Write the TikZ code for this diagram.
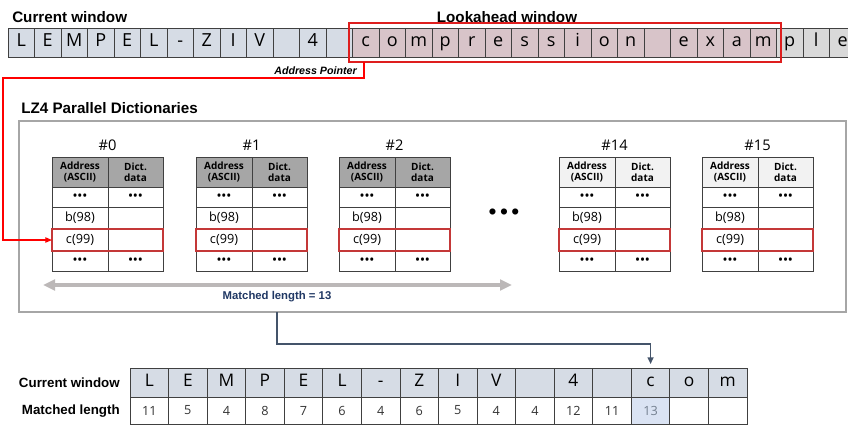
\documentclass[tikz,border=0pt]{standalone}
\usepackage{fontspec}
\setmainfont{Liberation Sans}
\newfontfamily\cf{Open Sans}
\usetikzlibrary{arrows.meta,calc}
\definecolor{cwfill}{RGB}{214,220,229}
\definecolor{lafill}{RGB}{216,196,201}
\definecolor{plfill}{RGB}{217,217,217}
\definecolor{cellline}{RGB}{64,64,64}
\definecolor{hdrdark}{RGB}{166,166,166}
\definecolor{hdrlight}{RGB}{242,242,242}
\definecolor{laRed}{RGB}{222,30,30}
\definecolor{rowRed}{RGB}{196,56,56}
\definecolor{boxgray}{RGB}{166,166,166}
\definecolor{arrowgray}{RGB}{188,184,184}
\definecolor{navy}{RGB}{32,56,100}
\definecolor{slate}{RGB}{68,84,106}
\definecolor{hl}{RGB}{218,227,243}
\newcommand\tdots{{\bfseries\fontsize{8}{8}\selectfont\textbullet\kern0.6pt\textbullet\kern0.6pt\textbullet}}
\tikzset{
  base/.style={inner sep=0pt, outer sep=0pt, anchor=north west},
  topcell/.style={base, draw=cellline, line width=0.6pt, minimum width=19.875pt, minimum height=21.75pt, font=\cf\fontsize{13.5}{14}\selectfont},
  hcell/.style={base, draw=cellline, line width=0.6pt, minimum height=22.5pt, align=center, font=\cf\bfseries\fontsize{7.5}{8.5}\selectfont},
  dcell/.style={base, draw=cellline, line width=0.6pt, fill=white, font=\cf\fontsize{9.5}{10}\selectfont},
  wA/.style={minimum width=42pt},
  wB/.style={minimum width=41.25pt},
  title/.style={font=\bfseries\fontsize{11.4}{13}\selectfont, inner sep=0pt},
  btitle/.style={font=\bfseries\fontsize{10}{12}\selectfont, inner sep=0pt},
  tablab/.style={font=\cf\fontsize{11}{12}\selectfont, inner sep=0pt},
  selrow/.style={base, draw=rowRed, line width=1pt, minimum width=83.25pt, minimum height=16.5pt},
  botcell/.style={base, draw=cellline, line width=0.6pt, minimum width=28.92pt},
}
\newcommand\dtable[4]{%
  \node[tablab] (#1lab) at (#2+55.5,145) {#3};
  \node[hcell,wA,fill=#4] (#1h1) at (#2,157) {Address\\(ASCII)};
  \node[hcell,wB,fill=#4] (#1h2) at (#2+56,157) {Dict.\\data};
  \node[dcell,wA,minimum height=15pt] (#1a1) at (#2,187) {\tdots};
  \node[dcell,wB,minimum height=15pt] (#1a2) at (#2+56,187) {\tdots};
  \node[dcell,wA,minimum height=16.5pt] (#1b1) at (#2,207) {b(98)};
  \node[dcell,wB,minimum height=16.5pt] (#1b2) at (#2+56,207) {};
  \node[dcell,wA,minimum height=16.5pt] (#1c1) at (#2,229) {c(99)};
  \node[dcell,wB,minimum height=16.5pt] (#1c2) at (#2+56,229) {};
  \node[dcell,wA,minimum height=15pt] (#1d1) at (#2,251) {\tdots};
  \node[dcell,wB,minimum height=15pt] (#1d2) at (#2+56,251) {\tdots};
  \node[selrow] (#1sel) at (#2,229) {};
}
\begin{document}
\begin{tikzpicture}[x=0.75pt,y=-0.75pt]
\useasboundingbox[fill=white] (0,0) rectangle (848,425);

% ---- top strip ----
\node[title, anchor=west] (cwtitle) at (12,17) {Current window};
\node[title] (latitle) at (507,17) {Lookahead window};
\foreach \t [count=\i from 0] in {L,E,M,P,E,L,-,Z,I,V,{},4,{},c,o,m,p,r,e,s,s,i,o,n,{},e,x,a,m,p,l,e} {
  \ifnum\i<13 \def\fc{cwfill}\else\ifnum\i<29 \def\fc{lafill}\else\def\fc{plfill}\fi\fi
  \node[topcell, fill=\fc] (c\i) at ({8+26.5*\i},28) {\strut\t};
}
\node[base, draw=laRed, line width=1.6pt, minimum width=324pt, minimum height=29.25pt] (la) at (349,23) {};
\node[font=\bfseries\itshape\fontsize{8}{9}\selectfont, anchor=east, inner sep=0pt] (ap) at (357,71) {Address Pointer};

% ---- dictionaries ----
\node[title, anchor=west] (lztitle) at (21,108) {LZ4 Parallel Dictionaries};
\node[base, draw=boxgray, line width=1.5pt, minimum width=620.25pt, minimum height=143.25pt] (dbox) at (19,121) {};
\dtable{t0}{52}{\#0}{hdrdark}
\dtable{t1}{196}{\#1}{hdrdark}
\dtable{t2}{339}{\#2}{hdrdark}
\dtable{t14}{559}{\#14}{hdrlight}
\dtable{t15}{702}{\#15}{hdrlight}
\node[inner sep=0pt, font=\fontsize{17}{17}\selectfont] (bigdots) at (504,214) {\textbullet\hspace{2.6pt}\textbullet\hspace{2.6pt}\textbullet};

\coordinate (aL) at (43,285);
\coordinate (aR) at (512,285);
\draw[arrowgray, line width=3pt, {Triangle[length=9pt,width=8pt]}-{Triangle[length=9pt,width=8pt]}] (aL) -- (aR);
\node[font=\bfseries\fontsize{8.5}{10}\selectfont, text=navy, inner sep=0pt] (mlab) at (277,297) {Matched length = 13};

% ---- address pointer ----
\coordinate (pstart) at (364,62);
\coordinate (pl) at (3,78);
\draw[red, line width=0.9pt, -{Triangle[length=5pt,width=4pt]}] (pstart) |- (pl) |- (t0sel.west);

% ---- bottom table ----
\node[btitle, anchor=east] (bcw) at (120,383) {Current window};
\node[btitle, anchor=east] (bml) at (120,411) {Matched length};
\foreach \t [count=\i from 0] in {L,E,M,P,E,L,-,Z,I,V,{},4,{},c,o,m} {
  \node[botcell, fill=cwfill, minimum height=21.75pt, font=\cf\fontsize{13}{14}\selectfont] (b\i) at ({130+38.56*\i},368) {\strut\t};
}
\foreach \t [count=\i from 0] in {11,5,4,8,7,6,4,6,5,4,4,12,11,13,{},{}} {
  \ifnum\i=13 \def\fc{hl}\def\tc{slate!75}\else\def\fc{white}\def\tc{black!80}\fi
  \node[botcell, fill=\fc, text=\tc, minimum height=20.25pt, font=\cf\fontsize{9.5}{10}\selectfont] (m\i) at ({130+38.56*\i},397) {\t};
}
\coordinate (cs) at (277,312);
\draw[slate, line width=1pt, -{Triangle[length=5pt,width=4.5pt]}, shorten >=3pt] (cs) -- ++(0,32) -| (b13.north);
\end{tikzpicture}
\end{document}
